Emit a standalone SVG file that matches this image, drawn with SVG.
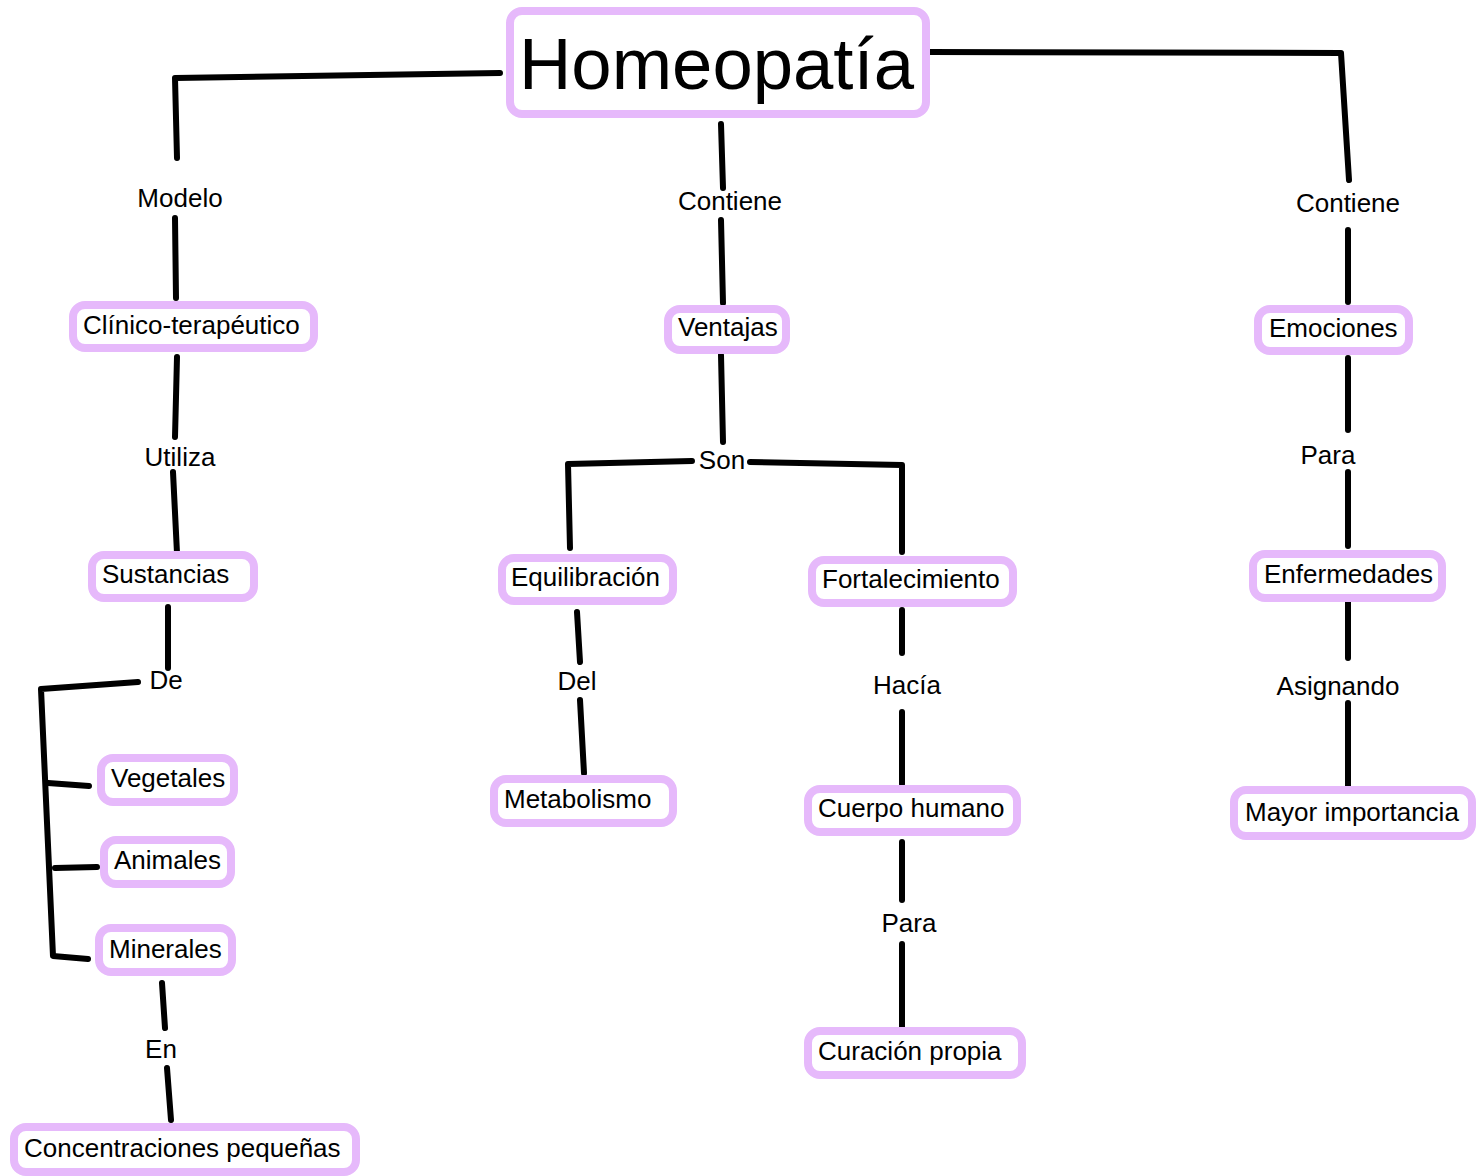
<svg xmlns="http://www.w3.org/2000/svg" width="1476" height="1176" viewBox="0 0 1476 1176">
<style>
.box{fill:#fff;stroke:#e6b9fb;stroke-width:8;rx:12}
.t{font-family:"Liberation Sans",Arial,sans-serif;font-size:26px;fill:#000}
.lbl{font-family:"Liberation Sans",Arial,sans-serif;font-size:26px;fill:#000;text-anchor:middle}
.c{fill:none;stroke:#000;stroke-width:6;stroke-linecap:round;stroke-linejoin:round}
</style>
<rect width="1476" height="1176" fill="#fff"/>
<g id="connectors">
<path class="c" d="M500,73 L175,78 L177,158"/>
<path class="c" d="M175,218 L176,298"/>
<path class="c" d="M721,124 L723,188"/>
<path class="c" d="M721,220 L723,303"/>
<path class="c" d="M930,52 L1341,53 L1349,180"/>
<path class="c" d="M1348,230 L1348,302"/>
<path class="c" d="M177,357 L175,437"/>
<path class="c" d="M173,472 L177,553"/>
<path class="c" d="M721,355 L723,442"/>
<path class="c" d="M692,461 L568,464 L570,548"/>
<path class="c" d="M750,462 L902,465 L902,552"/>
<path class="c" d="M168,607 L168,668"/>
<path class="c" d="M138,682 L41,689 L53,956 L88,959"/>
<path class="c" d="M48,783 L89,786"/>
<path class="c" d="M55,868 L97,867"/>
<path class="c" d="M577,612 L580,662"/>
<path class="c" d="M580,700 L584,773"/>
<path class="c" d="M902,610 L902,653"/>
<path class="c" d="M902,712 L902,784"/>
<path class="c" d="M902,842 L902,900"/>
<path class="c" d="M902,944 L902,1028"/>
<path class="c" d="M1348,358 L1348,430"/>
<path class="c" d="M1348,472 L1348,546"/>
<path class="c" d="M1348,602 L1348,658"/>
<path class="c" d="M1348,703 L1348,788"/>
<path class="c" d="M162,983 L165,1028"/>
<path class="c" d="M167,1068 L171,1120"/>
</g>
<g id="labels">
<text class="lbl" x="180" y="207">Modelo</text>
<text class="lbl" x="730" y="210">Contiene</text>
<text class="lbl" x="1348" y="212">Contiene</text>
<text class="lbl" x="180" y="466">Utiliza</text>
<text class="lbl" x="722" y="469">Son</text>
<text class="lbl" x="166" y="689">De</text>
<text class="lbl" x="577" y="690">Del</text>
<text class="lbl" x="907" y="694">Hacía</text>
<text class="lbl" x="1328" y="464">Para</text>
<text class="lbl" x="1338" y="695">Asignando</text>
<text class="lbl" x="909" y="932">Para</text>
<text class="lbl" x="161" y="1058">En</text>
</g>
<g id="n-homeopatia"><rect class="box" x="510" y="11" width="416" height="103" rx="16"/><text x="519" y="89" font-family="Liberation Sans, Arial, sans-serif" font-size="72.5">Homeopatía</text></g>
<g id="n-clinico"><rect class="box" x="73" y="305" width="241" height="43"/><text class="t" x="83" y="334">Clínico-terapéutico</text></g>
<g id="n-ventajas"><rect class="box" x="668" y="309" width="118" height="41"/><text class="t" x="678" y="336">Ventajas</text></g>
<g id="n-emociones"><rect class="box" x="1258" y="309" width="151" height="42"/><text class="t" x="1269" y="337">Emociones</text></g>
<g id="n-sustancias"><rect class="box" x="92" y="555" width="162" height="43"/><text class="t" x="102" y="583">Sustancias</text></g>
<g id="n-equilibracion"><rect class="box" x="502" y="558" width="171" height="43"/><text class="t" x="511" y="586">Equilibración</text></g>
<g id="n-fortalecimiento"><rect class="box" x="812" y="560" width="201" height="43"/><text class="t" x="822" y="588">Fortalecimiento</text></g>
<g id="n-enfermedades"><rect class="box" x="1253" y="554" width="189" height="44"/><text class="t" x="1264" y="583">Enfermedades</text></g>
<g id="n-vegetales"><rect class="box" x="101" y="758" width="133" height="44"/><text class="t" x="111" y="787">Vegetales</text></g>
<g id="n-animales"><rect class="box" x="104" y="840" width="127" height="44"/><text class="t" x="114" y="869">Animales</text></g>
<g id="n-minerales"><rect class="box" x="99" y="928" width="133" height="44"/><text class="t" x="109" y="958">Minerales</text></g>
<g id="n-metabolismo"><rect class="box" x="494" y="779" width="179" height="44"/><text class="t" x="504" y="808">Metabolismo</text></g>
<g id="n-cuerpo"><rect class="box" x="808" y="789" width="209" height="43"/><text class="t" x="818" y="817">Cuerpo humano</text></g>
<g id="n-mayor"><rect class="box" x="1234" y="790" width="238" height="46"/><text class="t" x="1245" y="821">Mayor importancia</text></g>
<g id="n-curacion"><rect class="box" x="808" y="1031" width="214" height="44"/><text class="t" x="818" y="1060">Curación propia</text></g>
<g id="n-concentraciones"><rect class="box" x="14" y="1127" width="342" height="45"/><text class="t" x="24" y="1157">Concentraciones pequeñas</text></g>
</svg>
